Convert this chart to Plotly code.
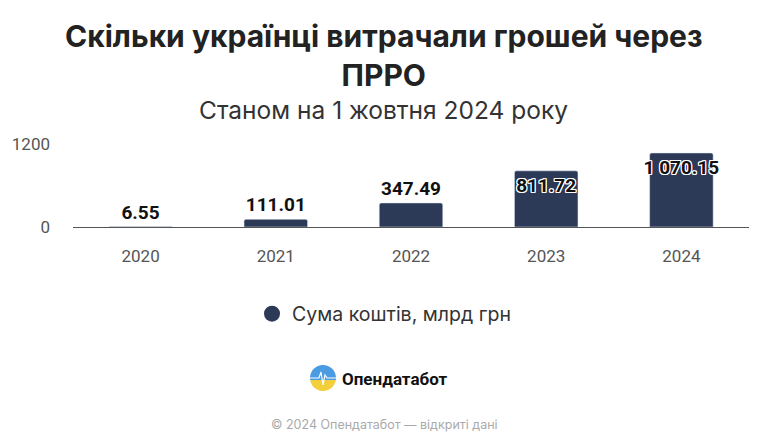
import math
import plotly.graph_objects as go

years = ["2020", "2021", "2022", "2023", "2024"]
values = [6.55, 111.01, 347.49, 811.72, 1070.15]
label_pos = ["outside", "outside", "outside", "inside", "inside"]
y_ticks = [0, 1200]
series_name = "Сума коштів, млрд грн"
title_text = "Скільки українці витрачали грошей через<br>ПРРО"
subtitle_text = "Станом на 1 жовтня 2024 року"
brand_text = "Опендатабот"
footer_text = "© 2024 Опендатабот — відкриті дані"

BAR = "#2c3a58"
W, H = 768, 448
PT, PB = 144, 227   # plot top/bottom px
PL, PR = 73, 749

def py(y_px):
    return (PB - y_px) / (PB - PT)

def px(x_px):
    return (x_px - PL) / (PR - PL)

shadow = "-1px -1px 0 #fff, 1px -1px 0 #fff, -1px 1px 0 #fff, 1px 1px 0 #fff, 0 1px 0 #fff, 0 -1px 0 #fff, 1px 0 0 #fff, -1px 0 0 #fff"

fig = go.Figure()
fig.add_trace(go.Bar(
    x=years, y=values, marker=dict(color=BAR, cornerradius=2),
    width=0.47,
    texttemplate="%{y:,.2f}", textposition=label_pos, textangle=0,
    insidetextanchor="end", constraintext="none", cliponaxis=False,
    textfont=dict(family="Roboto", size=19, color="#111", weight="bold"),
    insidetextfont=dict(family="Roboto", size=19, color="#111", weight="bold", shadow=shadow),
    outsidetextfont=dict(family="Roboto", size=19, color="#111", weight="bold"),
    showlegend=False, hoverinfo="skip",
))
fig.add_trace(go.Scatter(
    x=[None], y=[None], mode="markers", name=series_name,
    marker=dict(symbol="circle", size=18, color=BAR),
))

# logo icon
cx, cy, r = 323, 378, 13
def arc(a0, a1, n=40):
    pts = []
    for i in range(n + 1):
        a = a0 + (a1 - a0) * i / n
        pts.append((r * math.cos(a), r * math.sin(a)))
    return pts
top = arc(0, math.pi)
bot = arc(math.pi, 2 * math.pi)
def path(pts):
    return "M " + " L ".join(f"{x:.2f},{y:.2f}" for x, y in pts) + " Z"
shapes = [
    dict(type="path", xref="paper", yref="paper", xsizemode="pixel", ysizemode="pixel",
         xanchor=px(cx), yanchor=py(cy), path=path(bot), fillcolor="#f4cf3c", line=dict(width=0)),
    dict(type="path", xref="paper", yref="paper", xsizemode="pixel", ysizemode="pixel",
         xanchor=px(cx), yanchor=py(cy), path=path(top + [(-r, -2)] + [(r, -2)]), fillcolor="#4b9be3", line=dict(width=0)),
    dict(type="path", xref="paper", yref="paper", xsizemode="pixel", ysizemode="pixel",
         xanchor=px(cx), yanchor=py(cy),
         path="M -13,0 L -4,0 L -2,6 L 0,-7 L 2,3 L 4,0 L 13,0",
         line=dict(color="#ffffff", width=1.2)),
]

annotations = [
    dict(text=f"<b>{title_text}</b>", x=px(384), y=py(55), xref="paper", yref="paper",
         showarrow=False, font=dict(family="Inter", size=30, color="#222"), yanchor="middle"),
    dict(text=subtitle_text, x=px(383), y=py(110), xref="paper", yref="paper",
         showarrow=False, font=dict(family="Inter", size=24.5, color="#333"), yanchor="middle"),
    dict(text=f"<b>{brand_text}</b>", x=px(340), y=py(379), xref="paper", yref="paper",
         xanchor="left", showarrow=False, font=dict(family="Roboto", size=17, color="#111"), yanchor="middle"),
    dict(text=footer_text, x=px(384), y=py(424), xref="paper", yref="paper",
         showarrow=False, font=dict(family="Inter", size=12.5, color="#aaa"), yanchor="middle"),
]

fig.update_layout(
    width=W, height=H, autosize=False,
    margin=dict(l=PL, r=W - PR, t=PT, b=H - PB, pad=0),
    plot_bgcolor="#fff", paper_bgcolor="#fff",
    separators=". ",
    bargap=0.53,
    xaxis=dict(showgrid=False, showline=False, ticks="", tickfont=dict(family="Roboto", size=17, color="#555"),
               ticklabelstandoff=17),
    yaxis=dict(range=[0, 1200], tickvals=y_ticks, showgrid=True, gridcolor="#e8e8e8", gridwidth=1,
               zeroline=True, zerolinecolor="#555", zerolinewidth=1.2,
               tickfont=dict(family="Roboto", size=17, color="#555"), ticklabelstandoff=22),
    legend=dict(orientation="h", xref="container", yref="container", x=0.5, xanchor="center",
                y=1 - 314 / H, yanchor="middle",
                font=dict(family="Inter", size=19.5, color="#333"), itemwidth=30),
    shapes=shapes, annotations=annotations,
)
fig.write_html("out.html")
